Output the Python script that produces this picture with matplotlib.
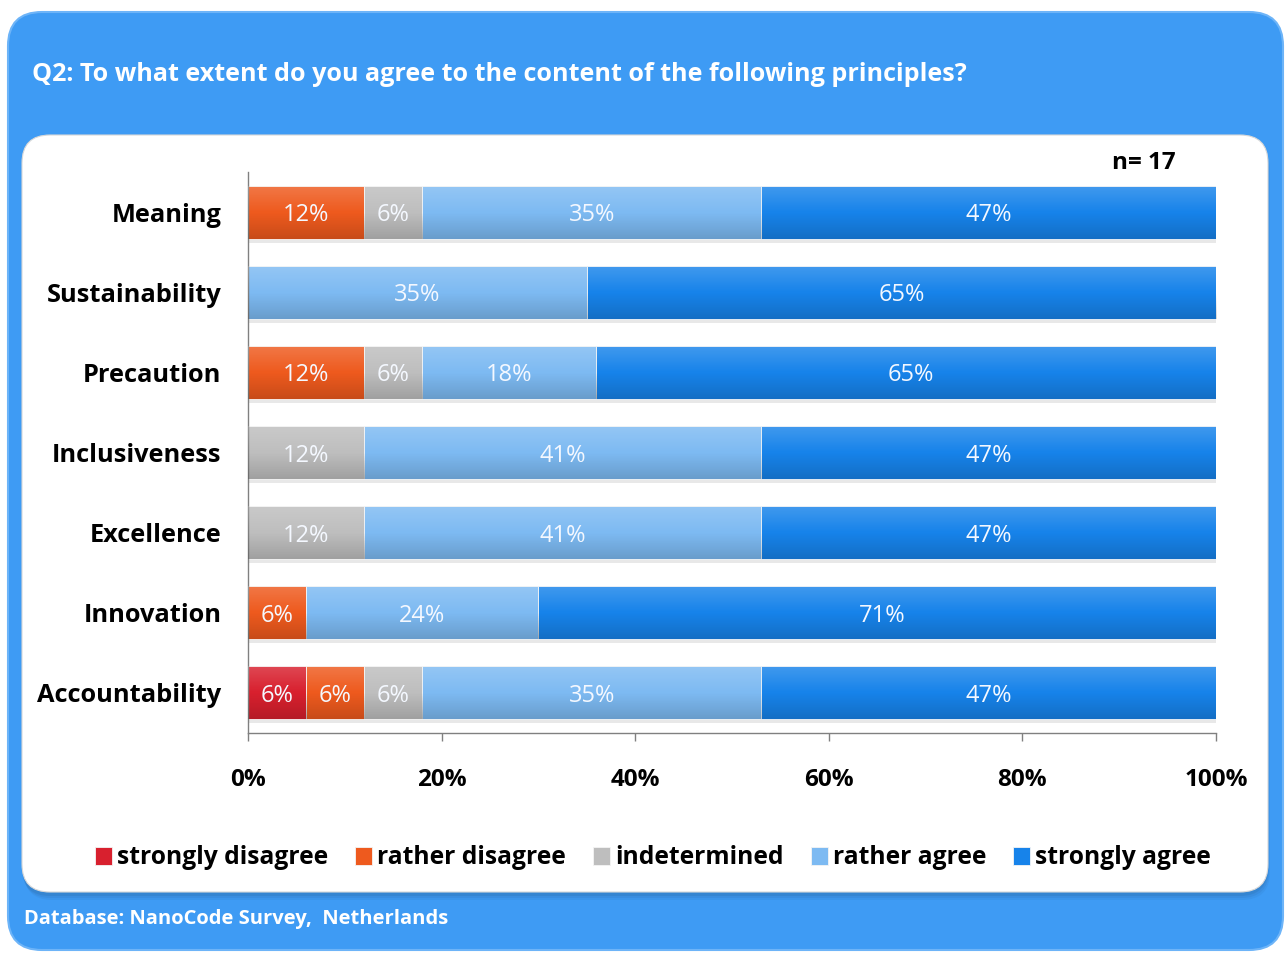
import numpy as np
import matplotlib.pyplot as plt
from matplotlib.patches import FancyBboxPatch

plt.rcParams['font.family'] = ['Open Sans', 'DejaVu Sans']

# survey answers, share of respondents in %
principles = ['Meaning', 'Sustainability', 'Precaution', 'Inclusiveness',
              'Excellence', 'Innovation', 'Accountability']
strongly_disagree = [0, 0, 0, 0, 0, 0, 6]
rather_disagree = [12, 0, 12, 0, 0, 6, 6]
indetermined = [6, 0, 6, 12, 12, 0, 6]
rather_agree = [35, 35, 18, 41, 41, 24, 35]
strongly_agree = [47, 65, 65, 47, 47, 71, 47]

answers = ['strongly disagree', 'rather disagree', 'indetermined',
           'rather agree', 'strongly agree']
colors = ['#D8202E', '#EE5A1E', '#BEBEBE', '#7DBAF2', '#1783EA']
x_ticks = [0, 20, 40, 60, 80, 100]
n_resp = 17

W, H = 1286, 956
fig = plt.figure(figsize=(W / 100, H / 100), dpi=100)
fig.patch.set_facecolor('white')

# background layer in pixel coordinates
bg = fig.add_axes([0, 0, 1, 1])
bg.set_xlim(0, W)
bg.set_ylim(H, 0)
bg.axis('off')

outer = FancyBboxPatch((8, 12), 1275, 938, boxstyle='round,pad=0,rounding_size=34',
                       fc='#3E9BF4', ec='#6DB4F8', lw=1.5)
bg.add_patch(outer)
# soft shadow under the white panel
for i, a in enumerate([0.10, 0.08, 0.06]):
    sh = FancyBboxPatch((22 + i, 138 + 2 * i), 1246, 758,
                        boxstyle='round,pad=0,rounding_size=28',
                        fc='#1a3a60', ec='none', alpha=a)
    bg.add_patch(sh)
panel = FancyBboxPatch((22, 135), 1246, 757, boxstyle='round,pad=0,rounding_size=28',
                       fc='white', ec='#d8d8d8', lw=0.8)
bg.add_patch(panel)

bg.text(32, 74, 'Q2: To what extent do you agree to the content of the following principles?',
        color='white', fontsize=18.1, fontweight='bold', va='center', ha='left')
bg.text(24, 919, 'Database: NanoCode Survey,  Netherlands',
        color='white', fontsize=14.5, fontweight='bold', va='center', ha='left')
bg.text(1176, 163, f'n= {n_resp}', color='black', fontsize=17.5,
        fontweight='bold', va='center', ha='right')

# bar chart
ax = fig.add_axes([248 / W, (H - 733) / H, (1216 - 248) / W, (733 - 172) / H])
ax.set_facecolor('none')

series = [strongly_disagree, rather_disagree, indetermined, rather_agree, strongly_agree]
y = np.arange(len(principles))
left = np.zeros(len(principles))
bar_h = 0.66

# overlay that makes each bar lighter at the top and darker at the bottom
grad = np.zeros((64, 1, 4))
t = np.linspace(0, 1, 64)
grad[:, 0, :3] = np.where(t[:, None] < 0.5, 1.0, 0.0)
grad[:, 0, 3] = np.where(t < 0.5, 0.18 * (1 - 2 * t), 0.16 * (2 * t - 1))

for vals, col, name in zip(series, colors, answers):
    vals = np.array(vals, dtype=float)
    # drop shadow
    ax.barh(y + 0.05, vals, left=left, height=bar_h, color='#9a9a9a',
            alpha=0.22, zorder=1, linewidth=0)
    bars = ax.barh(y, vals, left=left, height=bar_h, color=col, label=name,
                   edgecolor='#f4f4f4', linewidth=0.6, zorder=2)
    for rect, v in zip(bars, vals):
        if v <= 0:
            continue
        x0, y0 = rect.get_x(), rect.get_y()
        w, h = rect.get_width(), rect.get_height()
        ax.imshow(grad, extent=(x0, x0 + w, y0 + h, y0), aspect='auto',
                  zorder=3, interpolation='bilinear')
        ax.text(x0 + w / 2, y0 + h / 2, f'{v:.0f}%', ha='center', va='center_baseline',
                color='#F4F8FF', fontsize=17, zorder=4)
    left += vals

ax.set_xlim(0, 100)
ax.set_ylim(len(principles) - 0.5, -0.5)
ax.set_yticks(y)
ax.set_yticklabels(principles, fontsize=18.3, fontweight='bold')
ax.set_xticks(x_ticks)
ax.set_xticklabels([f'{v}%' for v in x_ticks], fontsize=17.5, fontweight='bold')
ax.tick_params(axis='y', length=0, pad=19)
ax.tick_params(axis='x', length=6, width=1, color='#808080', pad=19)
for s in ['top', 'right']:
    ax.spines[s].set_visible(False)
for s in ['left', 'bottom']:
    ax.spines[s].set_color('#808080')
    ax.spines[s].set_linewidth(1)

handles, labels = ax.get_legend_handles_labels()
fig.legend(handles, labels, loc='center', bbox_to_anchor=(653 / W, 1 - 858 / H),
           ncol=5, frameon=False, prop={'weight': 'bold', 'size': 17.7},
           handlelength=0.7, handleheight=0.8, handletextpad=0.2, columnspacing=1.1)

fig.savefig('out.png', dpi=100, facecolor='white')
